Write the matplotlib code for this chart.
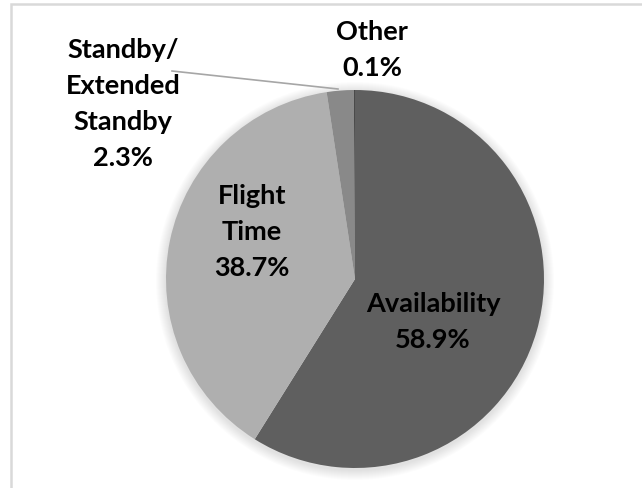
import matplotlib
matplotlib.use("Agg")
import matplotlib.pyplot as plt
from matplotlib.patches import Rectangle, Circle


W, H = 642, 489

categories = ["Availability", "Flight\nTime", "Standby/\nExtended\nStandby", "Other"]
shares = [58.9, 38.7, 2.3, 0.1]
colors = ["#5f5f5f", "#afafaf", "#898989", "#4a4a4a"]

# label anchors in pixels from the top-left corner
label_xy = [(433, 322), (252, 232), (123, 104), (372, 50)]

CENTER = (355, 280)
RADIUS = 189


def flip(x, y):
    return x, H - y


def main():
    plt.rcParams["font.family"] = ["Lato", "DejaVu Sans"]

    fig = plt.figure(figsize=(W / 100, H / 100), dpi=100)
    ax = fig.add_axes([0, 0, 1, 1])

    cx, cy = flip(*CENTER)

    # soft halo around the pie
    for k in range(10, 0, -1):
        ax.add_patch(Circle((cx, cy - 2), RADIUS + k, color="#000000",
                            alpha=0.012, lw=0, zorder=1))

    ax.pie(
        shares,
        colors=colors,
        startangle=90,
        counterclock=False,
        center=(cx, cy),
        radius=RADIUS,
        wedgeprops={"linewidth": 0, "zorder": 2},
    )

    for name, val, (x, y) in zip(categories, shares, label_xy):
        tx, ty = flip(x, y)
        ax.text(tx, ty, f"{name}\n{val:.1f}%", ha="center", va="center",
                fontsize=19.5, fontweight="bold", color="#000000",
                linespacing=1.6, zorder=5)

    # leader line for the standby slice
    lx0, ly0 = flip(172, 72)
    lx1, ly1 = flip(338, 90)
    ax.plot([lx0, lx1], [ly0, ly1], color="#a6a6a6", lw=1.2, zorder=4)

    ax.add_patch(Rectangle((11, -20), 700, H - 5 + 20, fill=False,
                           edgecolor="#d9d9d9", lw=1.8, zorder=6))

    ax.set_xlim(0, W)
    ax.set_ylim(0, H)
    ax.set_aspect("auto")
    ax.axis("off")

    fig.savefig("out.png", dpi=100, facecolor="white")


if __name__ == "__main__":
    main()
